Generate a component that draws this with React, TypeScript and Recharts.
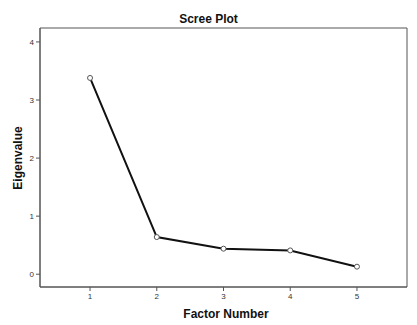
import React from 'react';
import { LineChart, Line, XAxis, YAxis, ReferenceArea } from 'recharts';

const factors = [1, 2, 3, 4, 5];
const eigenvalues = [3.38, 0.64, 0.44, 0.41, 0.13];
const xTicks = [1, 2, 3, 4, 5];
const yTicks = [0, 1, 2, 3, 4];

const data = factors.map((f, i) => ({ factor: f, value: eigenvalues[i] }));

const FONT = '"Liberation Sans", Arial, sans-serif';

export default function App() {
  return (
    <div style={{ position: 'absolute', left: 0, top: 0, width: 417, height: 325, background: '#fff', fontFamily: FONT }}>
      <div style={{ position: 'absolute', left: 0, width: 417, top: 12, textAlign: 'center', fontWeight: 'bold', fontSize: 12, color: '#111' }}>
        Scree Plot
      </div>
      <div style={{ position: 'absolute', left: 18, top: 158, width: 0, height: 0 }}>
        <div style={{ position: 'absolute', left: -50, top: -8, width: 100, textAlign: 'center', transform: 'rotate(-90deg)', fontWeight: 'bold', fontSize: 12, color: '#111', lineHeight: '16px' }}>
          Eigenvalue
        </div>
      </div>
      <div style={{ position: 'absolute', left: 126, width: 200, top: 307, textAlign: 'center', fontWeight: 'bold', fontSize: 12, color: '#111' }}>
        Factor Number
      </div>
      <LineChart width={417} height={325} data={data} margin={{ top: 28, right: 10, bottom: 18, left: 20 }}>
        <XAxis
          dataKey="factor"
          type="number"
          domain={[0.25, 5.75]}
          ticks={xTicks}
          allowDataOverflow
          height={20}
          axisLine={{ stroke: '#555', strokeWidth: 1 }}
          tickLine={{ stroke: '#555' }}
          tickSize={4}
          tick={{ fontSize: 8, fill: '#333', fontFamily: FONT }}
        />
        <YAxis
          type="number"
          domain={[-0.22, 4.24]}
          ticks={yTicks}
          allowDataOverflow
          width={20}
          axisLine={{ stroke: '#555', strokeWidth: 1 }}
          tickLine={{ stroke: '#555' }}
          tickSize={4}
          tick={{ fontSize: 8, fill: '#333', fontFamily: FONT }}
        />
        <ReferenceArea x1={0.25} x2={5.75} y1={-0.22} y2={4.24} fill="none" stroke="#555" strokeWidth={1} ifOverflow="visible" />
        <Line
          dataKey="value"
          stroke="#111"
          strokeWidth={2}
          isAnimationActive={false}
          dot={{ r: 2.5, stroke: '#555', strokeWidth: 1, fill: '#fff' }}
        />
      </LineChart>
    </div>
  );
}
